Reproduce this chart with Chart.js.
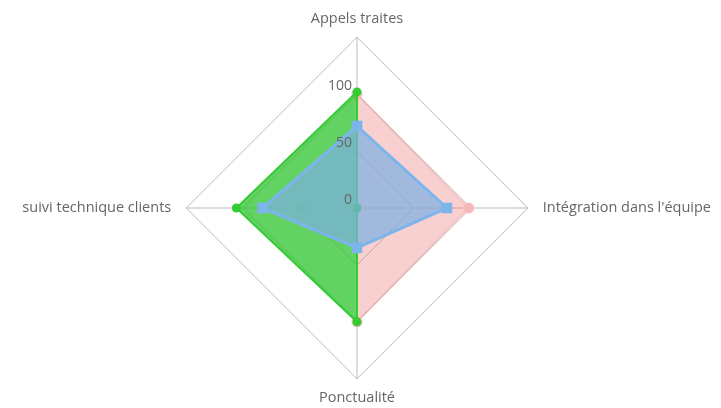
<!DOCTYPE html>
<html>
<head>
<meta charset="utf-8">
<script src="https://cdn.jsdelivr.net/npm/chart.js@4.4.1/dist/chart.umd.min.js"></script>
<style>
  html, body { margin: 0; padding: 0; background: #fff; }
</style>
</head>
<body>
<canvas id="chartCanvas" width="721" height="408"></canvas>
<script>
const categories = ["Appels traites", "Intégration dans l'équipe", "Ponctualité", "suivi technique clients"];
const blueValues = [72, 79, 35, 83];
const greenValues = [102, 0, 100, 106];
const pinkValues = [100, 98, 100, 0];
const tickLabels = [0, 50, 100];
const scaleMax = 150;
const scaleStep = 50;

// tick labels sit left of the vertical axis, a bit above each tick
const tickLabelPlugin = {
  id: "tickLabels",
  afterDatasetsDraw(chart) {
    const scale = chart.scales.r;
    const ctx = chart.ctx;
    ctx.save();
    ctx.font = "14px 'Open Sans'";
    ctx.fillStyle = "#666";
    ctx.textAlign = "right";
    ctx.textBaseline = "middle";
    tickLabels.forEach((v) => {
      const p = scale.getPointPositionForValue(0, v);
      ctx.fillText(String(v), p.x - 5, p.y - 8);
    });
    ctx.restore();
  },
};

const ctx = document.getElementById("chartCanvas").getContext("2d");

new Chart(ctx, {
  type: "radar",
  data: {
    labels: categories,
    datasets: [
      {
        label: "Bleu",
        data: blueValues,
        backgroundColor: "rgba(124,175,225,0.7)",
        borderColor: "rgba(124,181,236,1)",
        borderWidth: 3,
        pointStyle: "rect",
        pointRadius: 7.5,
        pointBackgroundColor: "rgba(124,181,236,1)",
        pointBorderWidth: 0,
      },
      {
        label: "Vert",
        data: greenValues,
        backgroundColor: "rgba(45,195,45,0.75)",
        borderColor: "rgba(51,204,51,1)",
        borderWidth: 2,
        pointRadius: 4.5,
        pointBackgroundColor: "rgba(51,204,51,1)",
        pointBorderWidth: 0,
      },
      {
        label: "Rose",
        data: pinkValues,
        backgroundColor: "rgba(235,100,100,0.3)",
        borderColor: "rgba(240,150,150,0.4)",
        borderWidth: 2,
        pointRadius: 5.5,
        pointBackgroundColor: "rgba(245,185,185,1)",
        pointBorderWidth: 0,
      },
    ],
  },
  options: {
    responsive: false,
    animation: false,
    layout: { padding: { top: 8, left: 13 } },
    plugins: {
      legend: { display: false },
      tooltip: { enabled: false },
    },
    elements: { line: { tension: 0 } },
    scales: {
      r: {
        min: 0,
        max: scaleMax,
        ticks: { stepSize: scaleStep, display: false },
        grid: { color: "#bbb", lineWidth: 1 },
        angleLines: { color: "#bbb", lineWidth: 1 },
        pointLabels: {
          font: { family: "'Open Sans'", size: 14.5 },
          color: "#666",
          padding: (c) => (c.index % 2 === 1 ? 15 : 10),
        },
      },
    },
  },
  plugins: [tickLabelPlugin],
});
</script>
</body>
</html>
